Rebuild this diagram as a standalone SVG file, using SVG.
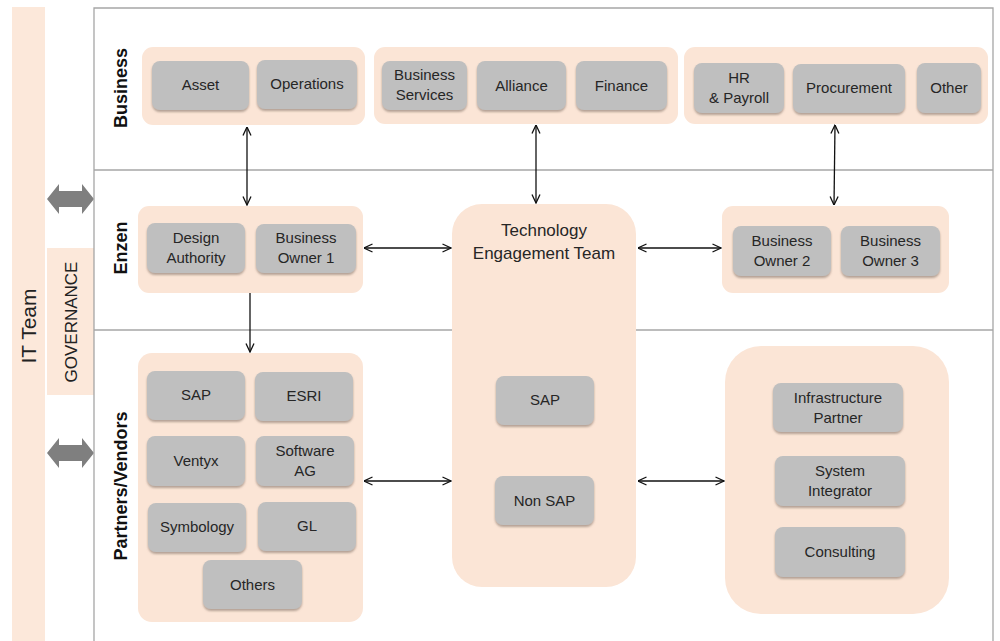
<svg xmlns="http://www.w3.org/2000/svg" width="1000" height="641" viewBox="0 0 1000 641">
  <style>
    .lane { fill: none; stroke: #a6a6a6; stroke-width: 1.3; }
    .grp { fill: #fbe5d6; }
    .box { fill: #bfbfbf; filter: url(#shadow); }
    .t { font-family: "Liberation Sans", Arial, sans-serif; font-size: 15px; fill: #262626; text-anchor: middle; }
    .big { font-size: 17px; }
    .lbl { font-family: "Liberation Sans", Arial, sans-serif; font-size: 18px; font-weight: bold; fill: #111; text-anchor: middle; }
    .side { font-family: "Liberation Sans", Arial, sans-serif; fill: #222; text-anchor: middle; }
    .conn { stroke: #111; stroke-width: 1.3; fill: none; }
    .block { fill: #7f7f7f; }
  </style>
  <defs>
    <filter id="shadow" x="-10%" y="-10%" width="120%" height="130%">
      <feDropShadow dx="0" dy="2" stdDeviation="1" flood-color="#7a6a60" flood-opacity="0.55"/>
    </filter>
    <marker id="arr" viewBox="0 0 10 10" refX="9.5" refY="5" markerWidth="10" markerHeight="10" markerUnits="userSpaceOnUse" orient="auto-start-reverse">
      <path d="M1,1 L9.5,5 L1,9" fill="none" stroke="#111" stroke-width="1.3"/>
    </marker>
  </defs>

  <!-- IT team column and governance strip -->
  <g id="it-team">
    <rect x="12" y="7" width="33" height="634" fill="#fce8da"/>
    <text class="side" font-size="21" transform="translate(36,326) rotate(-90)">IT  Team</text>
  </g>
  <g id="governance">
    <rect x="47" y="248" width="47" height="147" fill="#fce8da"/>
    <text class="side" font-size="17" transform="translate(77,322) rotate(-90)">GOVERNANCE</text>
    <polygon class="block" points="47,199 59,184 59,191 82,191 82,184 94,199 82,214 82,207 59,207 59,214"/>
    <polygon class="block" points="47,453 59,438 59,445 82,445 82,438 94,453 82,468 82,461 59,461 59,468"/>
  </g>

  <!-- swim lanes -->
  <g id="lanes">
    <polyline class="lane" points="94,641 94,8 993,8 993,641"/>
    <line class="lane" x1="94" y1="170" x2="993" y2="170"/>
    <line class="lane" x1="94" y1="330" x2="993" y2="330"/>
    <text class="lbl" transform="translate(127,88) rotate(-90)">Business</text>
    <text class="lbl" transform="translate(127,248) rotate(-90)">Enzen</text>
    <text class="lbl" transform="translate(127,486) rotate(-90)">Partners/Vendors</text>
  </g>

  <!-- Business lane -->
  <g id="business-group-1">
    <rect class="grp" x="142" y="47" width="223" height="78" rx="11"/>
    <rect class="box" x="152" y="61" width="97" height="49" rx="8"/>
    <text class="t" x="200.5" y="90">Asset</text>
    <rect class="box" x="257" y="60" width="100" height="49" rx="8"/>
    <text class="t" x="307" y="89">Operations</text>
  </g>
  <g id="business-group-2">
    <rect class="grp" x="374" y="47" width="304" height="77" rx="11"/>
    <rect class="box" x="382" y="61" width="85" height="49" rx="8"/>
    <text class="t" x="424.5" y="80">Business</text>
    <text class="t" x="424.5" y="100">Services</text>
    <rect class="box" x="477" y="61" width="89" height="49" rx="8"/>
    <text class="t" x="521.5" y="91">Alliance</text>
    <rect class="box" x="576" y="61" width="91" height="49" rx="8"/>
    <text class="t" x="621.5" y="91">Finance</text>
  </g>
  <g id="business-group-3">
    <rect class="grp" x="684" y="47" width="304" height="77" rx="11"/>
    <rect class="box" x="694" y="63" width="90" height="50" rx="8"/>
    <text class="t" x="739" y="83">HR</text>
    <text class="t" x="739" y="103">&amp; Payroll</text>
    <rect class="box" x="793" y="64" width="112" height="49" rx="8"/>
    <text class="t" x="849" y="93">Procurement</text>
    <rect class="box" x="917" y="63" width="64" height="50" rx="8"/>
    <text class="t" x="949" y="93">Other</text>
  </g>

  <!-- Enzen lane -->
  <g id="enzen-group-1">
    <rect class="grp" x="138" y="206" width="225" height="87" rx="11"/>
    <rect class="box" x="147" y="223" width="98" height="50" rx="8"/>
    <text class="t" x="196" y="243">Design</text>
    <text class="t" x="196" y="263">Authority</text>
    <rect class="box" x="256" y="224" width="100" height="49" rx="8"/>
    <text class="t" x="306" y="243">Business</text>
    <text class="t" x="306" y="263">Owner 1</text>
  </g>
  <g id="technology-engagement-team">
    <rect class="grp" x="452" y="204" width="184" height="383" rx="30"/>
    <text class="t big" x="544" y="236">Technology</text>
    <text class="t big" x="544" y="259">Engagement Team</text>
    <rect class="box" x="496" y="376" width="98" height="49" rx="8"/>
    <text class="t" x="545" y="405">SAP</text>
    <rect class="box" x="495" y="476" width="99" height="49" rx="8"/>
    <text class="t" x="544.5" y="506">Non SAP</text>
  </g>
  <g id="enzen-group-2">
    <rect class="grp" x="722" y="206" width="227" height="87" rx="11"/>
    <rect class="box" x="733" y="226" width="98" height="50" rx="8"/>
    <text class="t" x="782" y="246">Business</text>
    <text class="t" x="782" y="266">Owner 2</text>
    <rect class="box" x="841" y="226" width="99" height="50" rx="8"/>
    <text class="t" x="890.5" y="246">Business</text>
    <text class="t" x="890.5" y="266">Owner 3</text>
  </g>

  <!-- Partners / vendors lane -->
  <g id="vendors">
    <rect class="grp" x="138" y="353" width="225" height="269" rx="14"/>
    <rect class="box" x="147" y="371" width="98" height="49" rx="8"/>
    <text class="t" x="196" y="400">SAP</text>
    <rect class="box" x="255" y="372" width="98" height="49" rx="8"/>
    <text class="t" x="304" y="401">ESRI</text>
    <rect class="box" x="147" y="436" width="98" height="50" rx="8"/>
    <text class="t" x="196" y="466">Ventyx</text>
    <rect class="box" x="256" y="436" width="98" height="50" rx="8"/>
    <text class="t" x="305" y="456">Software</text>
    <text class="t" x="305" y="476">AG</text>
    <rect class="box" x="148" y="503" width="98" height="49" rx="8"/>
    <text class="t" x="197" y="532">Symbology</text>
    <rect class="box" x="258" y="502" width="98" height="49" rx="8"/>
    <text class="t" x="307" y="531">GL</text>
    <rect class="box" x="203" y="560" width="99" height="49" rx="8"/>
    <text class="t" x="252.5" y="590">Others</text>
  </g>
  <g id="partners">
    <rect class="grp" x="725" y="346" width="224" height="268" rx="36"/>
    <rect class="box" x="773" y="383" width="130" height="49" rx="8"/>
    <text class="t" x="838" y="403">Infrastructure</text>
    <text class="t" x="838" y="423">Partner</text>
    <rect class="box" x="775" y="456" width="130" height="50" rx="8"/>
    <text class="t" x="840" y="476">System</text>
    <text class="t" x="840" y="496">Integrator</text>
    <rect class="box" x="775" y="527" width="130" height="50" rx="8"/>
    <text class="t" x="840" y="557">Consulting</text>
  </g>

  <!-- connectors -->
  <g id="connectors">
    <line class="conn" x1="247" y1="127" x2="247" y2="205" marker-start="url(#arr)" marker-end="url(#arr)"/>
    <line class="conn" x1="536" y1="125" x2="536" y2="203" marker-start="url(#arr)" marker-end="url(#arr)"/>
    <line class="conn" x1="835" y1="125" x2="834" y2="205" marker-start="url(#arr)" marker-end="url(#arr)"/>
    <line class="conn" x1="364" y1="248" x2="451" y2="248" marker-start="url(#arr)" marker-end="url(#arr)"/>
    <line class="conn" x1="638" y1="248" x2="721" y2="248" marker-start="url(#arr)" marker-end="url(#arr)"/>
    <line class="conn" x1="250" y1="293" x2="250" y2="352" marker-end="url(#arr)"/>
    <line class="conn" x1="364" y1="481" x2="451" y2="481" marker-start="url(#arr)" marker-end="url(#arr)"/>
    <line class="conn" x1="638" y1="481" x2="724" y2="481" marker-start="url(#arr)" marker-end="url(#arr)"/>
  </g>
</svg>
